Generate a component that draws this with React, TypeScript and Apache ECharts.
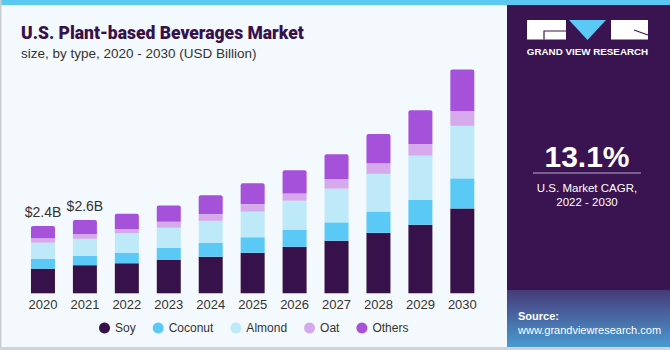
import React, { useEffect, useRef } from "react";
import * as echarts from "echarts";

const years = ["2020", "2021", "2022", "2023", "2024", "2025", "2026", "2027", "2028", "2029", "2030"];
const soy = [0.875, 1.0, 1.07, 1.185, 1.3, 1.445, 1.65, 1.87, 2.15, 2.44, 3.02];
const coconut = [0.345, 0.34, 0.377, 0.427, 0.5, 0.55, 0.615, 0.655, 0.76, 0.88, 1.07];
const almond = [0.58, 0.6, 0.69, 0.72, 0.78, 0.91, 1.03, 1.2, 1.34, 1.58, 1.87];
const oat = [0.157, 0.17, 0.153, 0.213, 0.24, 0.27, 0.26, 0.33, 0.38, 0.415, 0.53];
const others = [0.44, 0.5, 0.545, 0.58, 0.665, 0.74, 0.82, 0.89, 1.04, 1.2, 1.47];
const totalLabels = ["$2.4B", "$2.6B", "", "", "", "", "", "", "", "", ""];

const seriesNames = ["Soy", "Coconut", "Almond", "Oat", "Others"];
const seriesData = [soy, coconut, almond, oat, others];
const colors = ["#37114a", "#5bc9f5", "#bde9f9", "#d5a9eb", "#a551d9"];

export default function App() {
  const ref = useRef<HTMLDivElement>(null);
  useEffect(() => {
    document.body.style.margin = "0";
    const chart = echarts.init(ref.current!, null, { renderer: "svg" });
    const font = "Liberation Sans";
    const series: any[] = seriesNames.map((name, i) => ({
      name,
      type: "bar",
      stack: "total",
      barWidth: 24,
      data: seriesData[i],
      itemStyle: {
        color: colors[i],
        borderRadius: i === 4 ? [2, 2, 0, 0] : 0,
      },
      label:
        i === 4
          ? {
              show: true,
              position: "top",
              distance: 7,
              color: "#333",
              fontSize: 14,
              fontFamily: font,
              formatter: (p: any) => totalLabels[p.dataIndex],
            }
          : { show: false },
    }));

    chart.setOption({
      animation: false,
      backgroundColor: "#f4f9fd",
      title: {
        text: "U.S. Plant-based Beverages Market",
        subtext: "size, by type, 2020 - 2030 (USD Billion)",
        left: 16,
        top: 19,
        itemGap: 4,
        textStyle: { color: "#37114a", fontSize: 17.5, fontWeight: 900, fontFamily: "Roboto" },
        subtextStyle: { color: "#333", fontSize: 13.5, fontFamily: font },
      },
      legend: {
        data: seriesNames,
        left: 94,
        top: 317,
        icon: "circle",
        itemWidth: 11,
        itemHeight: 11,
        itemGap: 17,
        textStyle: { color: "#333", fontSize: 12, fontFamily: font },
      },
      grid: { left: 22, right: 186.7, top: 68.5, bottom: 56.7 },
      xAxis: {
        type: "category",
        data: years,
        axisLine: { show: false },
        axisTick: { show: false },
        axisLabel: { color: "#333", fontSize: 13, fontFamily: font, margin: 5 },
      },
      yAxis: { type: "value", min: 0, max: 8, show: false, splitLine: { show: false } },
      series,
      graphic: [
        { type: "rect", shape: { x: 0, y: 0, width: 670, height: 5 }, style: { fill: "#5ac8f0" }, z: 10 },
        { type: "rect", shape: { x: 0, y: 0, width: 1.5, height: 350 }, style: { fill: "#c8cdd2" }, z: 10 },
        { type: "rect", shape: { x: 0, y: 347, width: 670, height: 3 }, style: { fill: "#d0d4d8" }, z: 10 },
        { type: "rect", shape: { x: 507, y: 5, width: 163, height: 342 }, style: { fill: "#3a1450" }, z: 10 },
        {
          type: "rect",
          shape: { x: 507, y: 290, width: 163, height: 57 },
          style: {
            fill: new echarts.graphic.LinearGradient(0, 0, 0, 1, [
              { offset: 0, color: "#463a78" },
              { offset: 1, color: "#4a9bd2" },
            ]),
          },
          z: 11,
        },
        // logo
        { type: "rect", shape: { x: 527, y: 20, width: 39, height: 19.5 }, style: { fill: "#ffffff" }, z: 12 },
        { type: "polyline", shape: { points: [[544, 39.5], [544, 31], [566, 31]] }, style: { stroke: "#3a1450", lineWidth: 1.2, fill: null }, z: 13 },
        { type: "polygon", shape: { points: [[569, 20], [606, 20], [587.5, 40]] }, style: { fill: "#5bc9f5" }, z: 12 },
        { type: "rect", shape: { x: 611, y: 20, width: 37, height: 19.5 }, style: { fill: "#ffffff" }, z: 12 },
        { type: "line", shape: { x1: 634, y1: 30, x2: 648, y2: 35 }, style: { stroke: "#3a1450", lineWidth: 1.2 }, z: 13 },
        {
          type: "text",
          x: 587.5,
          y: 51,
          style: { text: "GRAND VIEW RESEARCH", fill: "#ffffff", fontSize: 9.8, fontWeight: "bold", fontFamily: font, align: "center", verticalAlign: "middle" },
          z: 12,
        },
        {
          type: "text",
          x: 587,
          y: 156,
          style: { text: "13.1%", fill: "#ffffff", fontSize: 30, fontWeight: "bold", fontFamily: font, align: "center", verticalAlign: "middle" },
          z: 12,
        },
        { type: "line", shape: { x1: 533, y1: 173, x2: 641, y2: 173 }, style: { stroke: "#b9a7cf", lineWidth: 1 }, z: 12 },
        {
          type: "text",
          x: 587,
          y: 188,
          style: { text: "U.S. Market CAGR,", fill: "#ffffff", fontSize: 11.5, fontFamily: font, align: "center", verticalAlign: "middle" },
          z: 12,
        },
        {
          type: "text",
          x: 587,
          y: 202,
          style: { text: "2022 - 2030", fill: "#ffffff", fontSize: 11.5, fontFamily: font, align: "center", verticalAlign: "middle" },
          z: 12,
        },
        {
          type: "text",
          x: 518,
          y: 316,
          style: { text: "Source:", fill: "#ffffff", fontSize: 11, fontWeight: "bold", fontFamily: font, verticalAlign: "middle" },
          z: 12,
        },
        {
          type: "text",
          x: 518,
          y: 330,
          style: { text: "www.grandviewresearch.com", fill: "#ffffff", fontSize: 11, fontFamily: font, verticalAlign: "middle" },
          z: 12,
        },
      ],
    });
    return () => chart.dispose();
  }, []);
  return <div ref={ref} style={{ width: 670, height: 350 }} />;
}
